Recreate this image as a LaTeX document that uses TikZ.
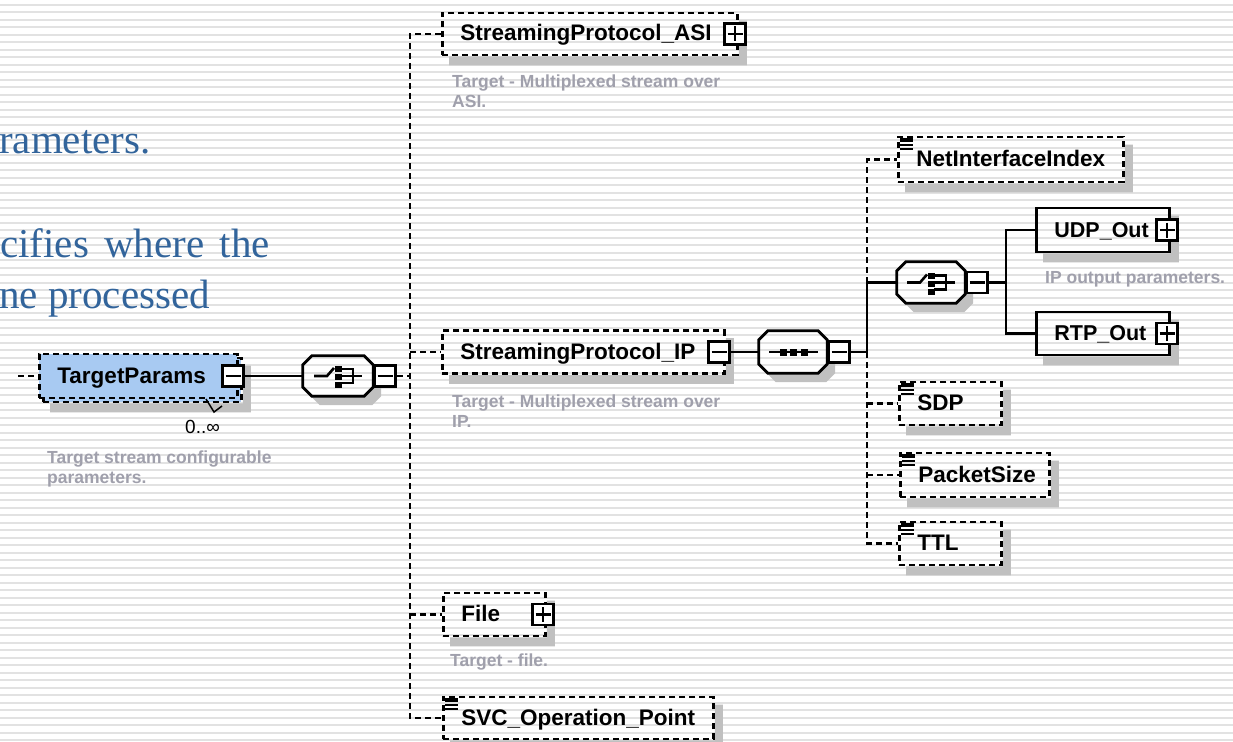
\documentclass[tikz,border=0pt]{standalone}
\usepackage{fontspec}
\setmainfont{Liberation Sans}
\newfontfamily\serifblue{Liberation Serif}
\usetikzlibrary{calc}

\definecolor{bluetxt}{RGB}{50,100,155}
\definecolor{tpfill}{RGB}{168,202,242}
\definecolor{shadowc}{RGB}{192,192,192}
\definecolor{stripec}{RGB}{226,226,226}
\definecolor{desc}{RGB}{160,160,172}

\pgfdeclarelayer{stripes}
\pgfdeclarelayer{shadows}
\pgfsetlayers{stripes,shadows,main}

\newcommand\boxlbl[2]{\makebox[#1][l]{#2}}
\newcommand\boxshadow[1]{\begin{pgfonlayer}{shadows}\fill[shadowc] ($(#1.north east)+(0,9)$) -- ($(#1.north east)+(8,9)$) -- ($(#1.south east)+(8,9)$) -- ($(#1.south west)+(8,9)$) -- ($(#1.south west)+(8,0)$) -- (#1.south east) -- cycle;\end{pgfonlayer}}
\newcommand\octapath[3]{($(#1.north west)+(#2+9,#3)$) -- ($(#1.north east)+(#2-9,#3)$) -- ($(#1.north east)+(#2,#3+9)$) -- ($(#1.south east)+(#2,#3-9)$) -- ($(#1.south east)+(#2-9,#3)$) -- ($(#1.south west)+(#2+9,#3)$) -- ($(#1.south west)+(#2,#3-9)$) -- ($(#1.north west)+(#2,#3+9)$) -- cycle}
\newcommand\compshape[1]{%
  \begin{pgfonlayer}{shadows}\begin{scope}[even odd rule]\clip (-20,-20) rectangle (1260,760) \octapath{#1}{0}{0};
  \fill[shadowc] \octapath{#1}{8}{9};\end{scope}\end{pgfonlayer}
  \draw[line width=2.8pt] \octapath{#1}{0}{0};}
\newcommand\choicesym[1]{%
  \draw[line width=2.6pt] ($(#1)+(-24,0)$) -- ($(#1)+(-11,0)$) -- ($(#1)+(-4,-8)$);
  \fill ($(#1)+(-3.5,-10)$) rectangle ($(#1)+(3.5,-4)$);
  \fill ($(#1)+(-3.5,-2)$) rectangle ($(#1)+(3.5,4)$);
  \fill ($(#1)+(-3.5,6)$) rectangle ($(#1)+(3.5,12)$);
  \draw[line width=2.6pt] ($(#1)+(3,-7)$) -- ($(#1)+(15,-7)$) -- ($(#1)+(15,7)$) -- ($(#1)+(3,7)$);
  \draw[line width=2.6pt] ($(#1)+(3,0)$) -- ($(#1)+(24,0)$);}
\newcommand\seqsym[1]{%
  \draw[line width=2.6pt] ($(#1)+(-24,0)$) -- ($(#1)+(25,0)$);
  \foreach \dx in {-10,0,11} {\fill ($(#1)+(\dx-3.5,-3.5)$) rectangle ($(#1)+(\dx+3.5,3.5)$);}}
\newcommand\typeicon[1]{%
  \fill ($(#1.north west)+(3,2)$) rectangle ($(#1.north west)+(16,6)$);
  \fill ($(#1.north west)+(3,8)$) rectangle ($(#1.north west)+(16,10)$);
  \fill ($(#1.north west)+(3,12)$) rectangle ($(#1.north west)+(16,14)$);}

\tikzset{
  conn/.style={line width=2.8pt},
  optc/.style={line width=2.8pt, dash pattern=on 6pt off 4pt},
  elem/.style={draw, line width=2.8pt, anchor=west, inner xsep=18pt, inner ysep=0pt,
    text height=16pt, text depth=2pt, font=\bfseries\fontsize{22.5}{24}\selectfont},
  optel/.style={elem, dash pattern=on 6pt off 4pt},
  tgl/.style={draw, fill=white, line width=2.8pt, minimum size=21pt, inner sep=0pt},
  tglminus/.style={tgl, path picture={\draw[line width=2.6pt] ([xshift=3pt]path picture bounding box.west) -- ([xshift=-3pt]path picture bounding box.east);}},
  tglplus/.style={tgl, path picture={\draw[line width=2.6pt] ([xshift=3pt]path picture bounding box.west) -- ([xshift=-3pt]path picture bounding box.east) ([yshift=-3pt]path picture bounding box.north) -- ([yshift=3pt]path picture bounding box.south);}},
  comp/.style={inner sep=0pt},
  desctext/.style={anchor=north west, inner sep=0pt, align=left, text=desc, font=\bfseries\fontsize{17.5}{20}\selectfont},
  bluetext/.style={anchor=base west, inner sep=0pt, text=bluetxt, font=\serifblue\fontsize{41}{48}\selectfont},
}

\begin{document}
\begin{tikzpicture}[x=1pt,y=-1pt]
\useasboundingbox (0,0) rectangle (1233,741);
\begin{pgfonlayer}{stripes}
  \fill[white] (0,0) rectangle (1233,741);
  \foreach \i in {0,...,98} {\draw[stripec, line width=2pt] (0,5+7.5*\i) -- (1233,5+7.5*\i);}
\end{pgfonlayer}

% left slide text
\node[bluetext] (b1) at (-1,153) {rameters.};
\node[bluetext] (b2) at (0,257) {cifies\hspace{5pt} where\hspace{5pt} the};
\node[bluetext] (b3) at (-1,308) {ne processed};

% elements
\node[optel, fill=tpfill, minimum height=44pt] (tpback) at (42,380) {\boxlbl{162pt}{}};
\node[optel, fill=tpfill, minimum height=44pt] (tp) at (38,376) {\boxlbl{162pt}{TargetParams}};
\node[optel, minimum height=42pt] (asi) at (441,34) {\boxlbl{259pt}{StreamingProtocol\_ASI}};
\node[optel, minimum height=43pt] (ip) at (441,352) {\boxlbl{246pt}{StreamingProtocol\_IP}};
\node[optel, minimum height=45pt] (nii) at (897,159.5) {\boxlbl{189pt}{NetInterfaceIndex}};
\node[elem, minimum height=44pt, font=\bfseries\fontsize{21.5}{24}\selectfont] (udp) at (1035,230) {\boxlbl{97pt}{UDP\_Out}};
\node[elem, minimum height=43pt, font=\bfseries\fontsize{21.5}{24}\selectfont] (rtp) at (1035,333.5) {\boxlbl{97pt}{RTP\_Out}};
\node[optel, minimum height=43pt] (sdp) at (898,403.5) {\boxlbl{66pt}{SDP}};
\node[optel, minimum height=44pt] (ps) at (899,475) {\boxlbl{113pt}{PacketSize}};
\node[optel, minimum height=43pt] (ttl) at (898,543.5) {\boxlbl{66pt}{TTL}};
\node[optel, minimum height=43pt] (file) at (442,614.5) {\boxlbl{66pt}{File}};
\node[optel, minimum height=42pt] (svc) at (442,718) {\boxlbl{234pt}{SVC\_Operation\_Point}};

\boxshadow{tpback}
\foreach \n in {asi,ip,nii,udp,rtp,sdp,ps,ttl,file,svc} {\boxshadow{\n}}

% compositors
\node[comp, minimum width=70pt, minimum height=40pt] (ch1) at (338,376) {};
\node[comp, minimum width=68pt, minimum height=42pt] (seq) at (793,352) {};
\node[comp, minimum width=68pt, minimum height=41pt] (ch2) at (931,282.5) {};
\compshape{ch1}
\compshape{seq}
\compshape{ch2}
\choicesym{ch1}
\choicesym{ch2}
\seqsym{seq}

% toggles
\node[tglminus] (tptgl) at (233,376) {};
\node[tglminus, anchor=west] (ch1tgl) at (ch1.east) {};
\node[tglplus] (asitgl) at (735,34) {};
\node[tglminus] (iptgl) at (719,352) {};
\node[tglminus, anchor=west] (seqtgl) at (seq.east) {};
\node[tglminus, anchor=west] (ch2tgl) at (ch2.east) {};
\node[tglplus] (udptgl) at (1167,230) {};
\node[tglplus] (rtptgl) at (1167,333.5) {};
\node[tglplus] (filetgl) at (543,614.5) {};

% connectors
\coordinate (in) at (18,376);
\coordinate (v1) at (410,0);
\coordinate (v2) at (867,0);
\coordinate (v3) at (1006,0);
\draw[optc] (in) -- (tp.west);
\draw[conn] (tptgl.east) -- (ch1.west);
\draw[optc] (ch1tgl.east) -- (ch1tgl.east -| v1);
\draw[optc] (asi.west) -- (asi.west -| v1) -- (svc.west -| v1) -- (svc.west);
\draw[optc] (ip.west -| v1) -- (ip.west);
\draw[optc] (file.west -| v1) -- (file.west);
\draw[conn] (iptgl.east) -- (seq.west);
\draw[conn] (seqtgl.east) -- (seqtgl.east -| v2) -- (ch2.west -| v2) -- (ch2.west);
\draw[optc] (ch2.west -| v2) -- (nii.west -| v2) -- (nii.west);
\draw[optc] (seqtgl.east -| v2) -- (ttl.west -| v2) -- (ttl.west);
\draw[optc] (sdp.west -| v2) -- (sdp.west);
\draw[optc] (ps.west -| v2) -- (ps.west);
\draw[conn] (ch2tgl.east) -- (ch2tgl.east -| v3);
\draw[conn] (udp.west) -- (udp.west -| v3) -- (rtp.west -| v3) -- (rtp.west);

% simple type icons
\foreach \n in {nii,sdp,ps,ttl,svc} {\typeicon{\n}}

% occurrence
\node[anchor=base west, inner sep=0pt, font=\fontsize{19}{22}\selectfont] (occ) at (185,433) {0..∞};
\coordinate (occv) at (214,412);
\draw[line width=1.5pt] (206,399) -- (occv) -- (222,406);

% descriptions
\node[desctext] (d1) at (47,450.6) {Target stream configurable\\parameters.};
\node[desctext] (d2) at (452,74.6) {Target - Multiplexed stream over\\ASI.};
\node[desctext] (d3) at (452,394.6) {Target - Multiplexed stream over\\IP.};
\node[desctext] (d4) at (1045,270.8) {IP output parameters.};
\node[desctext] (d5) at (450,653.6) {Target - file.};
\end{tikzpicture}
\end{document}
